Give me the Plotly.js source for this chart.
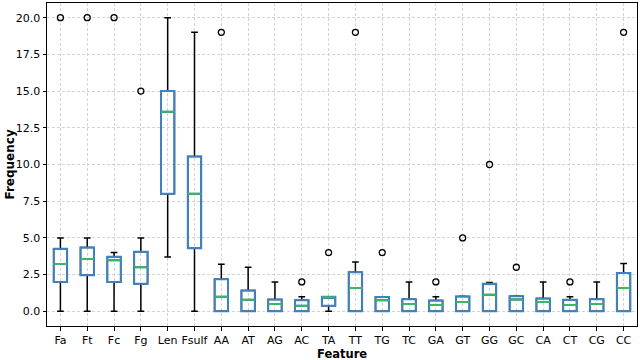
<!DOCTYPE html>
<html>
<head>
<meta charset="utf-8">
<script src="https://cdn.plot.ly/plotly-3.0.1.min.js"></script>
<style>
  html, body { margin: 0; padding: 0; background: #fff; }
  #chart { width: 640px; height: 360px; }
</style>
</head>
<body>
<div id="chart"></div>
<script>
// Box statistics
const features = ["Fa", "Ft", "Fc", "Fg", "Len", "Fsulf", "AA", "AT", "AG", "AC", "TA",
  "TT", "TG", "TC", "GA", "GT", "GG", "GC", "CA", "CT", "CG", "CC"];
const lowerWhisker = [0, 0, 0, 0, 3.7, 0, 0, 0, 0, 0, 0, 0, 0, 0, 0, 0, 0, 0, 0, 0, 0, 0];
const q1Values = [2, 2.45, 2, 1.87, 8, 4.3, 0, 0, 0, 0, 0.38, 0, 0, 0, 0, 0, 0, 0, 0, 0, 0, 0];
const medianValues = [3.22, 3.56, 3.47, 3.0, 13.6, 8, 1, 0.79, 0.49, 0.38, 0.95,
  1.58, 0.76, 0.49, 0.43, 0.63, 1.13, 0.81, 0.63, 0.43, 0.49, 1.58];
const q3Values = [4.26, 4.35, 3.72, 4.05, 15, 10.54, 2.18, 1.42, 0.81, 0.76, 0.99,
  2.66, 0.97, 0.83, 0.74, 1.01, 1.87, 1.03, 0.88, 0.79, 0.83, 2.61];
const upperWhisker = [5, 5, 4, 5, 20, 19, 3.2, 3, 2, 1, 1, 3.36, 1, 2, 1, 1.03, 1.96, 1.04, 2, 1, 2, 3.26];

// Outliers (fliers)
const outlierFeatures = ["Fa", "Ft", "Fc", "Fg", "AA", "AC", "TA", "TT", "TG", "GA", "GT", "GG", "GC", "CT", "CC"];
const outlierValues = [20, 20, 20, 15, 19, 2, 4, 19, 4, 2, 5, 10, 3, 2, 19];

const clear = "rgba(0,0,0,0)";

// black whiskers and caps
const whiskers = {
  type: "box", x: features, q1: q1Values, median: medianValues, q3: q3Values,
  lowerfence: lowerWhisker, upperfence: upperWhisker,
  width: 0.5, whiskerwidth: 0.5, fillcolor: clear,
  line: { color: "#000000", width: 1.5 }, boxpoints: false, hoverinfo: "skip"
};
// blue boxes on top, no whiskers of their own
const boxes = {
  type: "box", x: features, q1: q1Values, median: medianValues, q3: q3Values,
  lowerfence: q1Values, upperfence: q3Values,
  width: 0.5, whiskerwidth: 0, fillcolor: clear,
  line: { color: "#3f82c0", width: 2 }, boxpoints: false, hoverinfo: "skip"
};
// green median lines cover the blue ones
const medians = {
  type: "box", x: features, q1: medianValues, median: medianValues, q3: medianValues,
  lowerfence: medianValues, upperfence: medianValues,
  width: 0.5, whiskerwidth: 0, fillcolor: clear,
  line: { color: "#3fb561", width: 2 }, boxpoints: false, hoverinfo: "skip"
};
const fliers = {
  type: "scatter", mode: "markers", x: outlierFeatures, y: outlierValues,
  marker: { symbol: "circle-open", size: 6, color: "#000000", line: { width: 1.3, color: "#000000" } },
  hoverinfo: "skip"
};

const layout = {
  width: 640, height: 360,
  margin: { l: 47, r: 3, t: 3, b: 34 },
  paper_bgcolor: "#ffffff", plot_bgcolor: "#ffffff",
  showlegend: false,
  boxmode: "overlay",
  font: { family: "DejaVu Sans", size: 11, color: "#000000" },
  xaxis: {
    type: "category", categoryorder: "array", categoryarray: features,
    range: [-0.5, 21.5],
    showline: true, mirror: true, linecolor: "#000000", linewidth: 1,
    ticks: "outside", ticklen: 3.5, tickcolor: "#000000",
    showgrid: true, gridcolor: "#d4d4d4", griddash: "3px,2px", gridwidth: 1,
    zeroline: false
  },
  yaxis: {
    range: [-1, 21],
    tickvals: [0, 2.5, 5, 7.5, 10, 12.5, 15, 17.5, 20],
    tickformat: ".1f",
    showline: true, mirror: true, linecolor: "#000000", linewidth: 1,
    ticks: "outside", ticklen: 3.5, tickcolor: "#000000",
    showgrid: true, gridcolor: "#d4d4d4", griddash: "3px,2px", gridwidth: 1,
    zeroline: false
  },
  annotations: [
    { text: "<b>Feature</b>", xref: "paper", yref: "paper", x: 0.5, y: 0, yshift: -19,
      xanchor: "center", yanchor: "top", showarrow: false, font: { size: 11.5 } },
    { text: "<b>Frequency</b>", xref: "paper", yref: "paper", x: 0, xshift: -47, y: 0.5,
      xanchor: "left", yanchor: "middle", textangle: -90, showarrow: false, font: { size: 12 } }
  ]
};

Plotly.newPlot("chart", [whiskers, boxes, medians, fliers], layout, { staticPlot: true });
</script>
</body>
</html>
